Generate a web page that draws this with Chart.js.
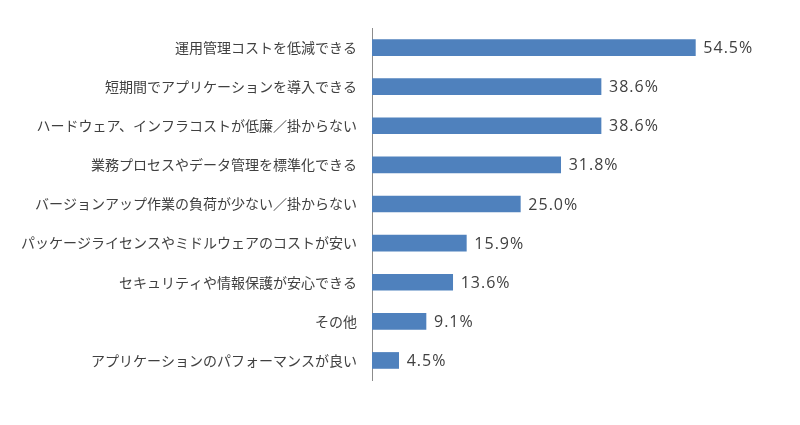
<!DOCTYPE html>
<html lang="ja">
<head>
    <meta charset="UTF-8">
    <title>導入メリット</title>
    <script src="https://cdn.jsdelivr.net/npm/chart.js"></script>
    <style>
        html, body { margin: 0; padding: 0; background: #fff; }
        .chart { width: 800px; height: 425px; }
    </style>
</head>
<body>
    <div class="chart">
        <canvas id="barChart"></canvas>
    </div>
    <script>
        // Données
        const categories = [
            "運用管理コストを低減できる",
            "短期間でアプリケーションを導入できる",
            "ハードウェア、インフラコストが低廉／掛からない",
            "業務プロセスやデータ管理を標準化できる",
            "バージョンアップ作業の負荷が少ない／掛からない",
            "パッケージライセンスやミドルウェアのコストが安い",
            "セキュリティや情報保護が安心できる",
            "その他",
            "アプリケーションのパフォーマンスが良い"
        ];
        const values = [54.5, 38.6, 38.6, 31.8, 25.0, 15.9, 13.6, 9.1, 4.5];

        const fontFamily = "'Noto Sans CJK JP', 'Noto Sans', sans-serif";

        // Étiquettes de valeur à droite des barres
        const valueLabels = {
            id: 'valueLabels',
            afterDatasetsDraw(chart) {
                const ctx = chart.ctx;
                const meta = chart.getDatasetMeta(0);
                ctx.save();
                ctx.font = "16px 'Open Sans', sans-serif";
                ctx.letterSpacing = '1px';
                ctx.fillStyle = '#404040';
                ctx.textAlign = 'left';
                ctx.textBaseline = 'middle';
                meta.data.forEach((bar, i) => {
                    ctx.fillText(values[i].toFixed(1) + '%', bar.x + 8, bar.y + 1);
                });
                ctx.restore();
            }
        };

        const ctx = document.getElementById('barChart').getContext('2d');
        new Chart(ctx, {
            type: 'bar',
            data: {
                labels: categories,
                datasets: [{
                    data: values,
                    backgroundColor: '#4F81BD',
                    borderWidth: 0,
                    barThickness: 16
                }]
            },
            options: {
                indexAxis: 'y',
                responsive: true,
                maintainAspectRatio: false,
                animation: false,
                layout: { padding: { top: 28, bottom: 45, right: 72, left: 0 } },
                plugins: {
                    legend: { display: false },
                    tooltip: { enabled: false }
                },
                scales: {
                    x: {
                        display: false,
                        min: 0,
                        max: 60
                    },
                    y: {
                        grid: { display: false },
                        border: { display: true, color: '#8c8c8c', width: 1 },
                        ticks: {
                            color: '#404040',
                            padding: 7,
                            font: { size: 14, family: fontFamily }
                        },
                        afterFit: scale => { scale.width = 372; }
                    }
                }
            },
            plugins: [valueLabels]
        });
    </script>
</body>
</html>
